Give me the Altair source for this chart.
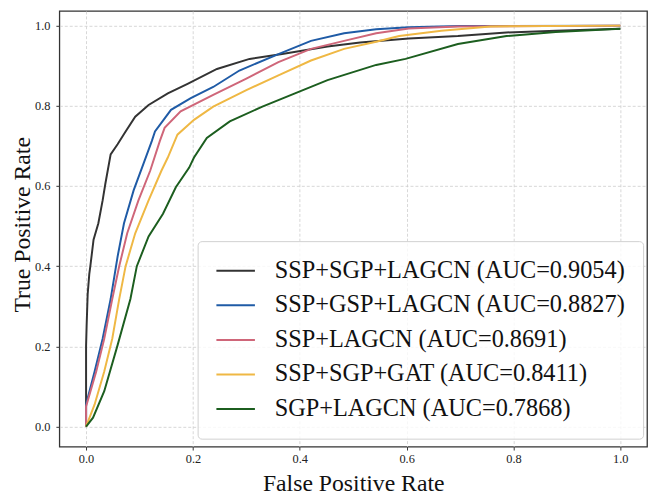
import altair as alt
import pandas as pd

SERIF = "Liberation Serif"

LABELS = [
    "SSP+SGP+LAGCN (AUC=0.9054)",
    "SSP+GSP+LAGCN (AUC=0.8827)",
    "SSP+LAGCN (AUC=0.8691)",
    "SSP+SGP+GAT (AUC=0.8411)",
    "SGP+LAGCN (AUC=0.7868)",
]
COLORS = ["#333333", "#1f5ba6", "#cf6679", "#efb844", "#1c5e1f"]

# SSP+SGP+LAGCN
FPR_1 = [0, 0, 0.001, 0.003, 0.006, 0.008, 0.014, 0.023, 0.031, 0.036, 0.046,
         0.059, 0.074, 0.092, 0.117, 0.153, 0.190, 0.245, 0.306, 0.367, 0.452,
         0.513, 0.604, 0.696, 0.787, 0.879, 1.0]
TPR_1 = [0, 0.2, 0.25, 0.33, 0.38, 0.40, 0.466, 0.507, 0.564, 0.605, 0.679,
         0.704, 0.736, 0.773, 0.802, 0.831, 0.855, 0.892, 0.917, 0.929, 0.948,
         0.958, 0.968, 0.974, 0.983, 0.987, 0.992]
# SSP+GSP+LAGCN
FPR_2 = [0, 0, 0.016, 0.031, 0.046, 0.059, 0.071, 0.089, 0.107, 0.123, 0.129,
         0.159, 0.196, 0.238, 0.287, 0.360, 0.421, 0.483, 0.543, 0.604, 0.70, 1.0]
TPR_2 = [0, 0.055, 0.137, 0.219, 0.318, 0.424, 0.507, 0.589, 0.654, 0.712, 0.736,
         0.790, 0.819, 0.847, 0.888, 0.929, 0.962, 0.981, 0.991, 0.996, 0.999, 1.0]
# SSP+LAGCN
FPR_3 = [0, 0, 0.019, 0.034, 0.049, 0.062, 0.077, 0.098, 0.120, 0.138, 0.147,
         0.177, 0.238, 0.300, 0.360, 0.421, 0.483, 0.543, 0.604, 0.696, 1.0]
TPR_3 = [0, 0.05, 0.137, 0.219, 0.318, 0.40, 0.482, 0.564, 0.638, 0.712, 0.745,
         0.786, 0.827, 0.868, 0.909, 0.942, 0.962, 0.981, 0.993, 0.998, 1.0]
# SSP+SGP+GAT
FPR_4 = [0, 0.016, 0.034, 0.049, 0.062, 0.074, 0.092, 0.117, 0.141, 0.153,
         0.171, 0.202, 0.238, 0.300, 0.360, 0.421, 0.483, 0.543, 0.586, 0.665,
         0.757, 1.0]
TPR_4 = [0, 0.055, 0.137, 0.219, 0.318, 0.40, 0.482, 0.564, 0.638, 0.671,
         0.728, 0.765, 0.798, 0.839, 0.876, 0.913, 0.942, 0.960, 0.974, 0.987,
         0.998, 1.0]
# SGP+LAGCN
FPR_5 = [0, 0.013, 0.034, 0.059, 0.083, 0.095, 0.117, 0.144, 0.168, 0.193,
         0.202, 0.226, 0.269, 0.330, 0.391, 0.452, 0.543, 0.598, 0.696, 0.787,
         0.879, 1.0]
TPR_5 = [0, 0.022, 0.088, 0.203, 0.318, 0.40, 0.474, 0.531, 0.597, 0.646,
         0.671, 0.720, 0.761, 0.798, 0.831, 0.864, 0.902, 0.917, 0.954, 0.974,
         0.984, 0.992]

FPRS = [FPR_1, FPR_2, FPR_3, FPR_4, FPR_5]
TPRS = [TPR_1, TPR_2, TPR_3, TPR_4, TPR_5]

rows = []
for label, fpr, tpr in zip(LABELS, FPRS, TPRS):
    for i, (x, y) in enumerate(zip(fpr, tpr)):
        rows.append({"model": label, "i": i, "fpr": x, "tpr": y})
df = pd.DataFrame(rows)

ticks = [0, 0.2, 0.4, 0.6, 0.8, 1.0]

chart = alt.Chart(df).mark_line(strokeWidth=2, clip=True).encode(
    x=alt.X("fpr:Q", title="False Positive Rate",
            scale=alt.Scale(domain=[-0.05, 1.05], nice=False, zero=False),
            axis=alt.Axis(values=ticks, format=".1f", labelPadding=3,
                          titlePadding=6)),
    y=alt.Y("tpr:Q", title="True Positive Rate",
            scale=alt.Scale(domain=[-0.05, 1.0365], nice=False, zero=False),
            axis=alt.Axis(values=ticks, format=".1f", labelPadding=6,
                          titleX=-25, titleY=216)),
    color=alt.Color("model:N",
                    scale=alt.Scale(domain=LABELS, range=COLORS),
                    legend=alt.Legend(
                        title=None, orient="none", legendX=140, legendY=233,
                        padding=18, labelFont=SERIF, labelFontSize=24.6,
                        labelColor="#111", labelLimit=0, symbolType="stroke",
                        symbolSize=1521, symbolStrokeWidth=2,
                        clipHeight=24, rowPadding=10, labelOffset=19,
                        strokeColor="#d0d0d0",
                        fillColor="rgba(255,255,255,0.8)", cornerRadius=4)),
    order="i:Q",
).properties(
    width=595, height=441,
    padding={"left": 52, "top": 0, "right": 3, "bottom": 47},
    autosize=alt.AutoSizeParams(type="none"),
).configure_view(
    stroke="#333333", strokeWidth=1.3
).configure_axis(
    domain=False, grid=True, gridDash=[3, 2], gridColor="#cccccc",
    gridWidth=0.8, tickColor="#333333", tickSize=3.5, tickWidth=1,
    labelFont=SERIF, labelFontSize=12.5, labelColor="#222222",
    titleFont=SERIF, titleFontSize=24, titleFontWeight="normal",
    titleColor="#111111",
)

chart.save("out.html", embed_options={"renderer": "svg", "actions": False})
